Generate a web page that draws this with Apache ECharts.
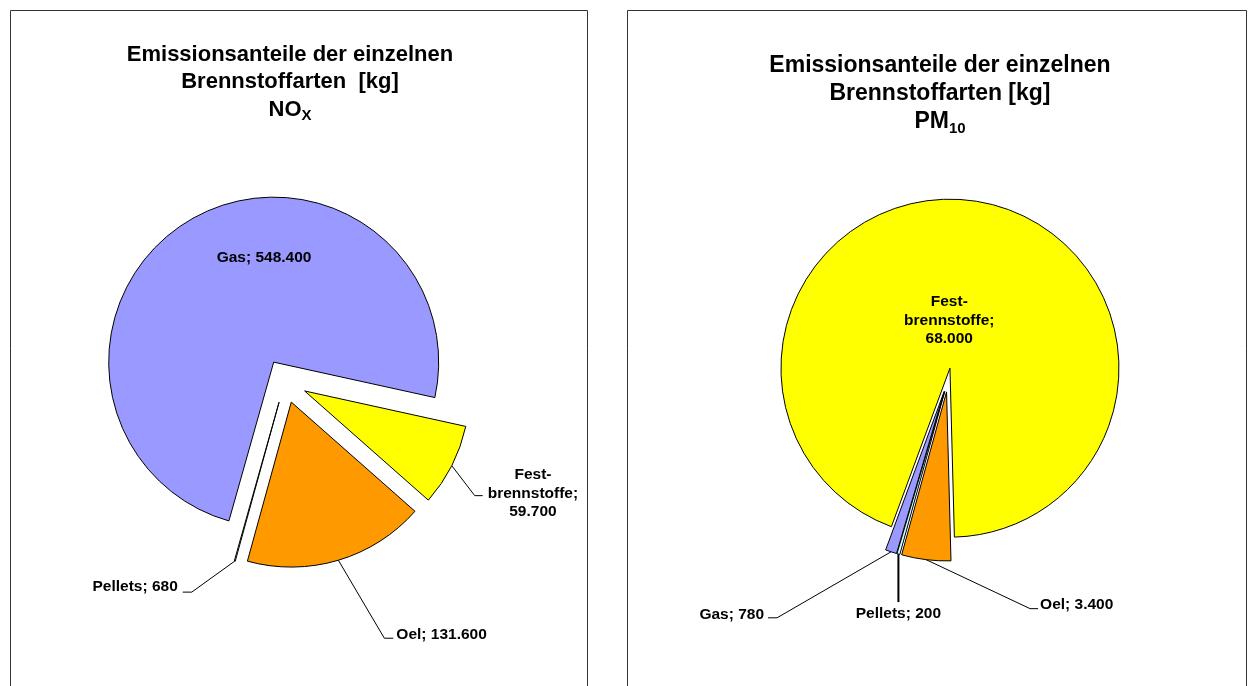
<!DOCTYPE html>
<html>
<head>
<meta charset="utf-8">
<script src="https://cdn.jsdelivr.net/npm/echarts@6/dist/echarts.min.js"></script>
<style>
html, body { margin: 0; padding: 0; background: #ffffff; }
#chart { width: 1250px; height: 686px; }
</style>
</head>
<body>
<div id="chart"></div>
<script>
// ---- data ----
const categories = ['Gas', 'Festbrennstoffe', 'Oel', 'Pellets'];
const noxValues = [548400, 59700, 131600, 680];
const pm10Values = [780, 68000, 3400, 200];
const noxTitle = 'Emissionsanteile der einzelnen\nBrennstoffarten  [kg]\nNO{sub|X}';
const pm10Title = 'Emissionsanteile der einzelnen\nBrennstoffarten [kg]\nPM{sub|10}';

// ---- styles ----
const sliceColors = { Gas: '#9999FF', Festbrennstoffe: '#FFFF00', Oel: '#FF9900', Pellets: '#CCFFFF' };
const FONT = "'Liberation Sans', Arial, Helvetica, sans-serif";

// label placement (inside shift, or leader line: [dx to elbow, dy to elbow, horizontal run])
const noxPlacement = {
  Gas: { inside: [23, -50] },
  Festbrennstoffe: { leader: [23, 30, 8], gap: 5, dy: -2 },
  Oel: { leader: [46, 78, 9], gap: 3, dy: -4 },
  Pellets: { leader: [-43, 31, -9], gap: 5, dy: -5 }
};
const pm10Placement = {
  Festbrennstoffe: { inside: [-13, 27] },
  Gas: { leader: [-114, 66, -9], gap: 4, dy: -3 },
  Pellets: { leader: [0, 48, 0], below: true, gap: 2, lineWidth: 2 },
  Oel: { leader: [104, 49, 8], gap: 2, dy: -4 }
};

function fmt(v) { return String(v).replace(/\B(?=(\d{3})+(?!\d))/g, '.'); }
function labelFormatter(p) {
  return p.name === 'Festbrennstoffe'
    ? 'Fest-\nbrennstoffe;\n' + fmt(p.value)
    : p.name + '; ' + fmt(p.value);
}

// labels are drawn by an un-exploded overlay pie; leader lines start on the exploded arc
function makeLayout(placement, explode) {
  return function (p) {
    const pl = placement[categories[p.dataIndex]];
    const r = p.labelRect;
    if (!pl) return {};
    if (pl.inside) {
      return { x: r.x + r.width / 2 + pl.inside[0], y: r.y + r.height / 2 + pl.inside[1], align: 'center', verticalAlign: 'middle' };
    }
    if (!p.labelLinePoints) return {};
    const p0 = p.labelLinePoints[0], p1 = p.labelLinePoints[1];
    const len = Math.hypot(p1[0] - p0[0], p1[1] - p0[1]) || 1;
    const s = [p0[0] + explode * (p1[0] - p0[0]) / len, p0[1] + explode * (p1[1] - p0[1]) / len];
    const e1 = [s[0] + pl.leader[0], s[1] + pl.leader[1]];
    const e2 = [e1[0] + pl.leader[2], e1[1]];
    if (pl.below) {
      return { x: e2[0], y: e2[1] + pl.gap, align: 'center', verticalAlign: 'top', labelLinePoints: [s, e1, e2] };
    }
    const dir = pl.leader[2] >= 0 ? 1 : -1;
    return {
      x: e2[0] + dir * (pl.gap + r.width / 2),
      y: e2[1] + pl.dy,
      align: 'center', verticalAlign: 'middle',
      labelLinePoints: [s, e1, e2]
    };
  };
}

function slicesSeries(values, center, radius, startAngle, offset) {
  return {
    type: 'pie',
    center: center, radius: radius, startAngle: startAngle, clockwise: true,
    selectedMode: 'multiple', selectedOffset: offset,
    animation: false, silent: true,
    itemStyle: { borderColor: '#000000', borderWidth: 1 },
    emphasis: { disabled: true, scale: false },
    select: { itemStyle: { borderColor: '#000000', borderWidth: 1 } },
    label: { show: false },
    labelLine: { show: false },
    data: categories.map(function (name, i) {
      return { name: name, value: values[i], selected: true, itemStyle: { color: sliceColors[name] } };
    })
  };
}

function labelSeries(values, placement, center, radius, startAngle, offset) {
  return {
    type: 'pie',
    center: center, radius: radius, startAngle: startAngle, clockwise: true,
    selectedMode: false,
    avoidLabelOverlap: false,
    animation: false, silent: true,
    itemStyle: { color: 'rgba(0,0,0,0)', borderWidth: 0 },
    emphasis: { disabled: true, scale: false },
    label: {
      show: true,
      color: '#000000',
      fontFamily: FONT,
      fontWeight: 'bold',
      fontSize: 15.5,
      lineHeight: 18.5,
      formatter: labelFormatter
    },
    labelLine: { show: true, smooth: false, lineStyle: { color: '#000000', width: 1 } },
    labelLayout: makeLayout(placement, offset),
    data: categories.map(function (name, i) {
      const pl = placement[name];
      const inside = !!pl.inside;
      return {
        name: name, value: values[i],
        label: { position: inside ? 'inside' : 'outside' },
        labelLine: { show: !inside, lineStyle: { color: '#000000', width: pl.lineWidth || 1 } }
      };
    })
  };
}

const chart = echarts.init(document.getElementById('chart'), null, { renderer: 'canvas' });
chart.setOption({
  backgroundColor: '#ffffff',
  animation: false,
  title: [
    {
      text: noxTitle, left: 290, top: 41, textAlign: 'center', padding: 0,
      textStyle: {
        fontFamily: FONT, fontWeight: 'bold', fontSize: 22, lineHeight: 27.5, color: '#000',
        rich: { sub: { fontFamily: FONT, fontWeight: 'bold', fontSize: 15, verticalAlign: 'bottom', color: '#000' } }
      }
    },
    {
      text: pm10Title, left: 940, top: 52, textAlign: 'center', padding: 0,
      textStyle: {
        fontFamily: FONT, fontWeight: 'bold', fontSize: 23, lineHeight: 28, color: '#000',
        rich: { sub: { fontFamily: FONT, fontWeight: 'bold', fontSize: 15, verticalAlign: 'bottom', color: '#000' } }
      }
    }
  ],
  graphic: [
    { type: 'rect', shape: { x: 10.5, y: 10.5, width: 577, height: 700 }, style: { fill: 'none', stroke: '#333333', lineWidth: 1 }, silent: true },
    { type: 'rect', shape: { x: 627.5, y: 10.5, width: 619, height: 700 }, style: { fill: 'none', stroke: '#333333', lineWidth: 1 }, silent: true }
  ],
  series: [
    slicesSeries(noxValues, [285, 381], 165, -105.75, 22),
    slicesSeries(pm10Values, [948, 380], 169, -106.4, 12),
    labelSeries(noxValues, noxPlacement, [285, 381], 165, -105.75, 22),
    labelSeries(pm10Values, pm10Placement, [948, 380], 169, -106.4, 12)
  ]
});
</script>
</body>
</html>
